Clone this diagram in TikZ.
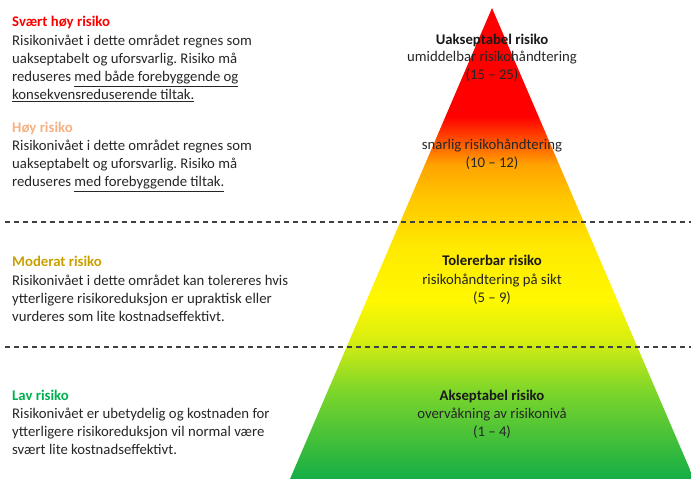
\documentclass[tikz,border=0pt]{standalone}
\usepackage{fontspec}
\setmainfont{Carlito}
\frenchspacing
\definecolor{cRed}{HTML}{FF0000}
\definecolor{cHigh}{HTML}{F4B183}
\definecolor{cMod}{HTML}{C9A000}
\definecolor{cLow}{HTML}{00B050}
\definecolor{cBody}{HTML}{262626}
\definecolor{cDash}{HTML}{404040}
\definecolor{sg5}{HTML}{14AE46}
\definecolor{sg4}{HTML}{7ED62A}
\definecolor{sg3}{HTML}{D8EE10}
\definecolor{sy2}{HTML}{FFF800}
\definecolor{sy1}{HTML}{FFEA00}
\definecolor{so2}{HTML}{FFC800}
\definecolor{so1}{HTML}{FFA400}
\definecolor{sr1}{HTML}{FF0000}
\pgfdeclareverticalshading{riskshade}{100bp}{color(0bp)=(sg5); color(25bp)=(sg5); color(34.45bp)=(sg4); color(39.76bp)=(sg3); color(44bp)=(sy2); color(49.5bp)=(sy1); color(54.62bp)=(so2); color(58.33bp)=(so1); color(63.5bp)=(sr1); color(75bp)=(sr1); color(100bp)=(sr1)}
\tikzset{
  body/.style={inner sep=0pt, anchor=base west, font=\fontsize{14.8}{18}\selectfont, text=cBody},
  head/.style={inner sep=0pt, anchor=base west, font=\fontsize{14.8}{18}\selectfont\bfseries},
  mid/.style={inner sep=0pt, anchor=base, font=\fontsize{14.8}{18}\selectfont, text=cBody},
  midb/.style={inner sep=0pt, anchor=base, font=\fontsize{14.8}{18}\selectfont\bfseries, text=black!90},
  sep/.style={draw=cDash, line width=2bp, dash pattern=on 5bp off 4bp}
}
\begin{document}
\begin{tikzpicture}[x=1bp,y=-1bp]
\useasboundingbox (0,0) rectangle (691,479);
\clip (0,0) rectangle (691,479);
% pyramid
\coordinate (apex) at (492,8);
\coordinate (bl) at (290,479);
\coordinate (br) at (694,479);
\shade[shading=riskshade] (apex) -- (bl) -- (br) -- cycle;
% separators
\coordinate (s1a) at (5,222);
\coordinate (s1b) at (691,222);
\coordinate (s2a) at (5,347);
\coordinate (s2b) at (691,347);
\draw[sep] (s1a) -- (s1b);
\draw[sep] (s2a) -- (s2b);
% Svaert hoy risiko
\node[head, text=cRed] (h1) at (12,27) {Svært høy risiko};
\node[body] (h1a) at (12,46) {Risikonivået i dette området regnes som};
\node[body] (h1b) at (12,64) {uakseptabelt og uforsvarlig. Risiko må};
\node[body] (h1c) at (12,82) {reduseres \underline{med både forebyggende og}};
\node[body] (h1d) at (12,100) {\underline{konsekvensreduserende tiltak.}};
% Hoy risiko
\node[head, text=cHigh] (h2) at (12,133) {Høy risiko};
\node[body] (h2a) at (12,151) {Risikonivået i dette området regnes som};
\node[body] (h2b) at (12,169) {uakseptabelt og uforsvarlig. Risiko må};
\node[body] (h2c) at (12,187) {reduseres \underline{med forebyggende tiltak.}};
% Moderat risiko
\node[head, text=cMod] (h3) at (12,267) {Moderat risiko};
\node[body] (h3a) at (12,285) {Risikonivået i dette området kan tolereres hvis};
\node[body] (h3b) at (12,303) {ytterligere risikoreduksjon er upraktisk eller};
\node[body] (h3c) at (12,321) {vurderes som lite kostnadseffektivt.};
% Lav risiko
\node[head, text=cLow] (h4) at (12,400) {Lav risiko};
\node[body] (h4a) at (12,418) {Risikonivået er ubetydelig og kostnaden for};
\node[body] (h4b) at (12,436) {ytterligere risikoreduksjon vil normal være};
\node[body] (h4c) at (12,454) {svært lite kostnadseffektivt.};
% pyramid labels
\node[midb] (p1) at (492,45) {Uakseptabel risiko};
\node[mid] (p1a) at (492,62) {umiddelbar risikohåndtering};
\node[mid] (p1b) at (492,80) {(15 – 25)};
\node[mid] (p2a) at (492,150) {snarlig risikohåndtering};
\node[mid] (p2b) at (492,168) {(10 – 12)};
\node[midb] (p3) at (492,266) {Tolererbar risiko};
\node[mid] (p3a) at (492,284) {risikohåndtering på sikt};
\node[mid] (p3b) at (492,302) {(5 – 9)};
\node[midb] (p4) at (492,400) {Akseptabel risiko};
\node[mid] (p4a) at (492,418) {overvåkning av risikonivå};
\node[mid] (p4b) at (492,436) {(1 – 4)};
\end{tikzpicture}
\end{document}
